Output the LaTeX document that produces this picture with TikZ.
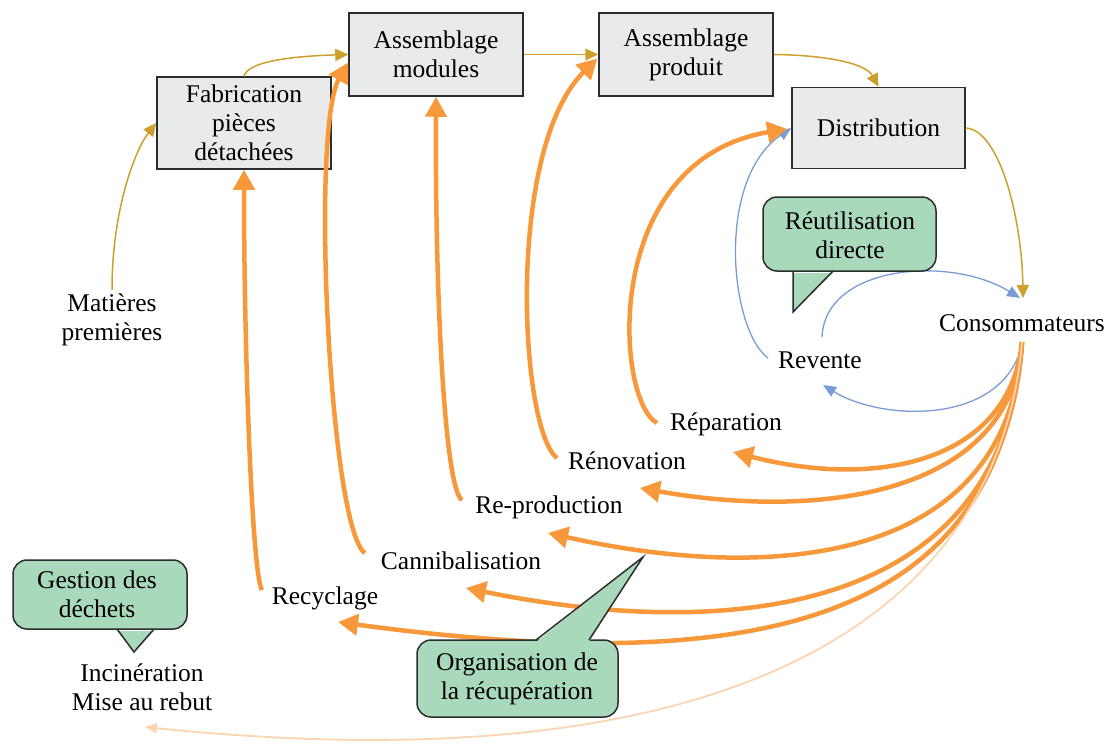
\documentclass[tikz,border=0pt]{standalone}
\usepackage{fontspec}
\setmainfont{Liberation Serif}
\usetikzlibrary{arrows.meta}
\definecolor{orangeC}{RGB}{247,152,58}
\definecolor{peachC}{RGB}{251,212,178}
\definecolor{goldC}{RGB}{205,160,46}
\definecolor{blueC}{RGB}{122,156,214}
\definecolor{greenC}{RGB}{168,217,187}
\definecolor{boxgray}{RGB}{233,234,236}
\definecolor{edgeC}{RGB}{45,45,45}
\begin{document}
\begin{tikzpicture}[x=1pt,y=-1pt,
  font=\fontsize{25.5}{29}\selectfont,
  stage/.style={draw=edgeC, line width=1.5pt, fill=boxgray, align=center, inner sep=0pt},
  lbl/.style={align=center, inner sep=2pt},
  flowG/.style={goldC, line width=1.5pt, -{Triangle[length=13pt,width=12pt]}},
  flowB/.style={blueC, line width=1.3pt, -{Triangle[length=13pt,width=11pt]}},
  flowO/.style={orangeC, line width=4.5pt, -{Triangle[length=20pt,width=21pt]}},
  flowP/.style={peachC, line width=1.8pt, -{Triangle[length=12pt,width=10pt]}},
  callfill/.style={fill=greenC, draw=edgeC, line width=1.5pt},
]
\useasboundingbox (0,0) rectangle (1107,744);

% process boxes
\node[stage, minimum width=174pt, minimum height=92pt] (fab) at (244,123) {Fabrication\\pièces\\détachées};
\node[stage, minimum width=174pt, minimum height=83pt] (asm) at (436,54.5) {Assemblage\\modules};
\node[stage, minimum width=174pt, minimum height=83pt] (prod) at (686,54.5) {Assemblage\\produit};
\node[stage, minimum width=173pt, minimum height=81pt] (dist) at (878.5,128) {Distribution};

% labels
\node[lbl] (mat) at (112,320) {Matières\\premières};
\node[lbl] (cons) at (1022,323) {Consommateurs};
\node[lbl] (rev) at (820,360) {Revente};
\node[lbl] (repa) at (726,424) {Réparation};
\node[lbl] (reno) at (627,461) {Rénovation};
\node[lbl] (repro) at (549,507) {Re-production};
\node[lbl] (canni) at (461,561) {Cannibalisation};
\node[lbl] (recy) at (325,598) {Recyclage};
\node[lbl] (inci) at (142,687) {Incinération\\Mise au rebut};

% forward flow (gold)
\draw[flowG] ([shift={(0,-2)}]mat.north) .. controls (112,210) and (135,150) .. (fab.west);
\draw[flowG] (fab.north) .. controls (248,60) and (300,56) .. (asm.west);
\draw[flowG] (asm.east) -- (prod.west);
\draw[flowG] (prod.east) .. controls (820,55) and (865,62) .. (dist.north);
\draw[flowG] (dist.east) .. controls (1000,130) and (1022,220) .. ([shift={(1,-25)}]cons.center);

% direct reuse (blue)
\draw[flowB] ([shift={(2,-23)}]rev.center) .. controls (825,265) and (950,255) .. ([shift={(-2,-25)}]cons.center);
\draw[flowB] ([shift={(-4,34)}]cons.center) .. controls (990,425) and (880,420) .. ([shift={(3,25)}]rev.center);
\draw[flowB] ([shift={(-52,-2)}]rev.center) .. controls (730,330) and (715,180) .. (dist.west);

% recovery loops (orange)
\draw[flowO] ([shift={(-69,-1)}]repa.center) .. controls (615,400) and (600,160) .. ([shift={(-4,1)}]dist.west);
\draw[flowO] ([shift={(-70,-3)}]reno.center) .. controls (520,430) and (505,150) .. ([shift={(-1,4)}]prod.west);
\draw[flowO] ([shift={(-87,-7)}]repro.center) .. controls (445,490) and (435,300) .. (asm.south);
\draw[flowO] ([shift={(-96,-8)}]canni.center) .. controls (330,530) and (310,130) .. ([shift={(0,8)}]asm.west);
\draw[flowO] ([shift={(-63,-8)}]recy.center) .. controls (252,575) and (244,350) .. (fab.south);

% fan from consumers
\draw[flowO] ([shift={(0,19)}]cons.center) .. controls (1010,460) and (880,490) .. ([shift={(7,28)}]repa.center);
\draw[flowO] ([shift={(0,19)}]cons.center) .. controls (1012,495) and (820,520) .. ([shift={(13,27)}]reno.center);
\draw[flowO] ([shift={(0,19)}]cons.center) .. controls (1010,560) and (780,585) .. ([shift={(-1,26)}]repro.center);
\draw[flowO] ([shift={(0,19)}]cons.center) .. controls (1005,620) and (720,640) .. ([shift={(5,27)}]canni.center);
\draw[flowO] ([shift={(0,19)}]cons.center) .. controls (1000,600) and (800,685) .. ([shift={(13,24)}]recy.center);
\draw[flowP] ([shift={(0,19)}]cons.center) .. controls (1000,600) and (760,790) .. ([shift={(3,40)}]inci.center);

% callouts
\draw[callfill, rounded corners=14pt] (763,197) rectangle (936,271);
\fill[greenC] (793,273) -- (793,312) -- (833,273) -- cycle;
\draw[edgeC, line width=1.5pt, line join=miter] (793,271) -- (793,312) -- (833,271);
\node[lbl] (reut) at (850,235) {Réutilisation\\directe};

\draw[callfill, rounded corners=14pt] (13,560) rectangle (187,629);
\fill[greenC] (117,631) -- (134,652) -- (154,631) -- cycle;
\draw[edgeC, line width=1.5pt, line join=miter] (117,629) -- (134,652) -- (154,629);
\node[lbl] (gest) at (97,594) {Gestion des\\déchets};

\draw[callfill, rounded corners=14pt] (417,640) rectangle (618,717);
\fill[greenC] (536,642) -- (643,557) -- (589,642) -- cycle;
\draw[edgeC, line width=1.5pt, line join=miter] (536,640) -- (643,557) -- (589,640);
\node[lbl] (orga) at (517,679) {Organisation de\\la récupération};
\end{tikzpicture}
\end{document}
